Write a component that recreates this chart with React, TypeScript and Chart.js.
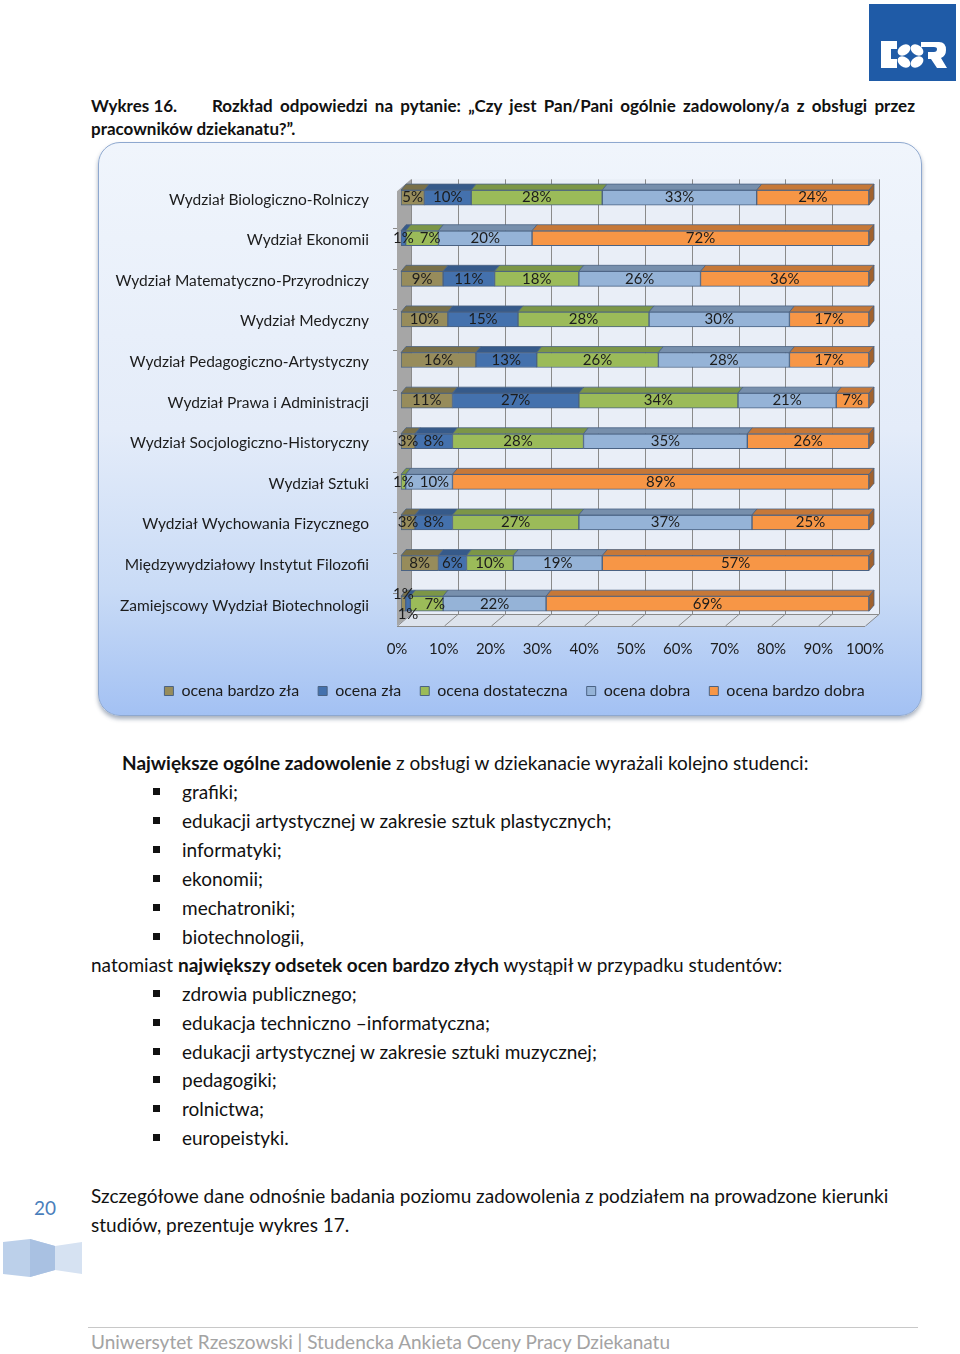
import React, { useEffect, useRef } from 'react';
import { Chart, registerables } from 'chart.js';
Chart.register(...registerables);

const categories = [
  'Wydział Biologiczno-Rolniczy',
  'Wydział Ekonomii',
  'Wydział Matematyczno-Przyrodniczy',
  'Wydział Medyczny',
  'Wydział Pedagogiczno-Artystyczny',
  'Wydział Prawa i Administracji',
  'Wydział Socjologiczno-Historyczny',
  'Wydział Sztuki',
  'Wydział Wychowania Fizycznego',
  'Międzywydziałowy Instytut Filozofii',
  'Zamiejscowy Wydział Biotechnologii',
];
const seriesNames = ['ocena bardzo zła', 'ocena zła', 'ocena dostateczna', 'ocena dobra', 'ocena bardzo dobra'];
const bardzoZla = [5, 0, 9, 10, 16, 11, 3, 0, 3, 8, 1];
const zla = [10, 1, 11, 15, 13, 27, 8, 0, 8, 6, 1];
const dostateczna = [28, 7, 18, 28, 26, 34, 28, 1, 27, 10, 7];
const dobra = [33, 20, 26, 30, 28, 21, 35, 10, 37, 19, 22];
const bardzoDobra = [24, 72, 36, 17, 17, 7, 26, 89, 25, 57, 69];
const xTicks = [0, 10, 20, 30, 40, 50, 60, 70, 80, 90, 100];
const seriesColors = ['#978c5b', '#4471ad', '#9bbb59', '#95b3d7', '#f79646'];

const FONT = 'Lato, "Open Sans", sans-serif';
const DX = 14, DY = -12; // wall depth
const BDX = 5, BDY = -6; // bar depth
const SX = 4, SY = -2; // bar shift

function shade(hex: string, f: number) {
  const n = parseInt(hex.slice(1), 16);
  const r = Math.round(((n >> 16) & 255) * f);
  const g = Math.round(((n >> 8) & 255) * f);
  const b = Math.round((n & 255) * f);
  return `rgb(${r},${g},${b})`;
}

function line(ctx: CanvasRenderingContext2D, x1: number, y1: number, x2: number, y2: number) {
  ctx.beginPath();
  ctx.moveTo(x1, y1);
  ctx.lineTo(x2, y2);
  ctx.stroke();
}

const legendShift = {
  id: 'legendShift',
  afterLayout(chart: any) {
    if (chart.legend) {
      chart.legend.left += 33;
      chart.legend.right += 33;
    }
  },
};

const threeD = {
  id: 'threeD',
  beforeDatasetsDraw(chart: any) {
    const { ctx, chartArea: ca, scales } = chart;
    const xs = scales.x;
    ctx.save();
    // back wall
    ctx.fillStyle = '#e9eef7';
    ctx.fillRect(ca.left + DX, ca.top, ca.right - ca.left, ca.bottom + DY - ca.top);
    // left wall
    ctx.fillStyle = '#a6a6a6';
    ctx.beginPath();
    ctx.moveTo(ca.left, ca.top - DY);
    ctx.lineTo(ca.left + DX, ca.top);
    ctx.lineTo(ca.left + DX, ca.bottom + DY);
    ctx.lineTo(ca.left, ca.bottom);
    ctx.closePath();
    ctx.fill();
    // floor
    ctx.fillStyle = '#dde3ec';
    ctx.beginPath();
    ctx.moveTo(ca.left, ca.bottom);
    ctx.lineTo(ca.right, ca.bottom);
    ctx.lineTo(ca.right + DX, ca.bottom + DY);
    ctx.lineTo(ca.left + DX, ca.bottom + DY);
    ctx.closePath();
    ctx.fill();
    // grid
    ctx.strokeStyle = '#8a8a8a';
    ctx.lineWidth = 1;
    xTicks.forEach((v) => {
      const x = Math.round(xs.getPixelForValue(v)) + 0.5;
      line(ctx, x + DX, ca.top, x + DX, ca.bottom + DY);
      line(ctx, x, ca.bottom, x + DX, ca.bottom + DY);
    });
    line(ctx, ca.left, ca.bottom + 0.5, ca.right, ca.bottom + 0.5);
    line(ctx, ca.left + DX, ca.bottom + DY + 0.5, ca.right + DX, ca.bottom + DY + 0.5);
    // left axis ticks
    const n = chart.data.labels.length;
    const band = (ca.bottom - ca.top) / n;
    for (let i = 1; i < n; i++) {
      const y = Math.round(ca.top + band * i) + 0.5;
      line(ctx, ca.left - 4, y + 8, ca.left, y + 8);
    }
    ctx.restore();
    ctx.save();
    ctx.translate(SX, SY);
  },
  afterDatasetsDraw(chart: any) {
    const { ctx } = chart;
    const n = chart.data.labels.length;
    const rows: any[] = [];
    for (let i = 0; i < n; i++) {
      let last: any = null;
      const segs: any[] = [];
      chart.data.datasets.forEach((ds: any, di: number) => {
        const v = ds.data[i];
        if (!v) return;
        const el = chart.getDatasetMeta(di).data[i];
        const { x, y, base, height } = el.getProps(['x', 'y', 'base', 'height'], true);
        const x0 = Math.min(x, base), x1 = Math.max(x, base);
        const top = y - height / 2;
        ctx.fillStyle = shade(seriesColors[di], 0.8);
        ctx.strokeStyle = '#4a6283';
        ctx.lineWidth = 0.8;
        ctx.beginPath();
        ctx.moveTo(x0, top);
        ctx.lineTo(x0 + BDX, top + BDY);
        ctx.lineTo(x1 + BDX, top + BDY);
        ctx.lineTo(x1, top);
        ctx.closePath();
        ctx.fill();
        ctx.stroke();
        last = { x1, top, height, di };
        segs.push({ x0, x1, y, v });
      });
      if (last) {
        ctx.fillStyle = shade(seriesColors[last.di], 0.65);
        ctx.beginPath();
        ctx.moveTo(last.x1, last.top);
        ctx.lineTo(last.x1 + BDX, last.top + BDY);
        ctx.lineTo(last.x1 + BDX, last.top + BDY + last.height);
        ctx.lineTo(last.x1, last.top + last.height);
        ctx.closePath();
        ctx.fill();
        ctx.stroke();
      }
      rows.push(segs);
    }
    ctx.restore();
    // data labels
    ctx.save();
    ctx.font = `15px ${FONT}`;
    ctx.fillStyle = '#1c1c1c';
    ctx.textAlign = 'center';
    ctx.textBaseline = 'middle';
    rows.forEach((segs) => {
      const placed: any[] = [];
      segs.forEach((s: any) => {
        const text = s.v + '%';
        const w = ctx.measureText(text).width;
        let cx = (s.x0 + s.x1) / 2 + SX;
        let cy = s.y + SY;
        const prev = placed[placed.length - 1];
        if (prev && cx - w / 2 < prev.cx + prev.w / 2 + 1) {
          if (prev.v <= 1 && s.v <= 1) {
            prev.cy -= 10;
            cy += 10;
          } else {
            cx = prev.cx + prev.w / 2 + 6 + w / 2;
          }
        }
        placed.push({ cx, cy, w, v: s.v, text });
      });
      placed.forEach((p) => ctx.fillText(p.text, p.cx, p.cy));
    });
    ctx.restore();
  },
};

function ChartPanel() {
  const ref = useRef<HTMLCanvasElement>(null);
  useEffect(() => {
    if (!ref.current) return;
    Chart.defaults.font.family = FONT;
    const series = [bardzoZla, zla, dostateczna, dobra, bardzoDobra];
    const chart = new Chart(ref.current, {
      type: 'bar',
      data: {
        labels: categories,
        datasets: series.map((d, i) => ({
          label: seriesNames[i],
          data: d,
          backgroundColor: seriesColors[i],
          borderColor: '#4a6283',
          borderWidth: 1,
          borderSkipped: false,
          barThickness: 15,
        })),
      },
      options: {
        indexAxis: 'y',
        responsive: false,
        animation: false,
        layout: { padding: { left: 0, right: 57, top: 35, bottom: 7 } },
        scales: {
          x: {
            stacked: true,
            min: 0,
            max: 100,
            ticks: { stepSize: 10, callback: (v: any) => v + '%', padding: 14, font: { size: 15 }, color: '#1c1c1c' },
            grid: { display: false, drawTicks: false },
            border: { display: false },
            afterFit: (s: any) => { s.height = 38; },
          },
          y: {
            stacked: true,
            ticks: { padding: 28, font: { size: 15.5 }, color: '#1c1c1c' },
            grid: { display: false, drawTicks: false },
            border: { display: false },
            afterFit: (s: any) => { s.width = 299; },
          },
        },
        plugins: {
          legend: {
            position: 'bottom',
            labels: { boxWidth: 9, boxHeight: 9, padding: 19, font: { size: 16 }, color: '#1c1c1c' },
          },
          tooltip: { enabled: false },
        },
      } as any,
      plugins: [threeD, legendShift],
    });
    return () => chart.destroy();
  }, []);
  return (
    <div
      style={{
        position: 'absolute', left: 98, top: 142, width: 824, height: 574,
        borderRadius: 22, border: '1.5px solid #8ea8cf', boxSizing: 'border-box',
        background: 'linear-gradient(180deg, #f0f5fc 0%, #e4ecf9 50%, #c9dbf6 78%, #a3c1f3 100%)',
        boxShadow: '0 3px 4px rgba(60,80,110,0.45)',
      }}
    >
      <canvas ref={ref} width={824} height={574} style={{ position: 'absolute', left: -1.5, top: -1.5, width: 824, height: 574 }} />
    </div>
  );
}

const T = (props: any) => (
  <div style={{ position: 'absolute', whiteSpace: 'nowrap', lineHeight: '22px', fontSize: 19, color: '#111', ...props.style }}>
    {props.children}
  </div>
);

const bullets1 = ['grafiki;', 'edukacji artystycznej w zakresie sztuk plastycznych;', 'informatyki;', 'ekonomii;', 'mechatroniki;', 'biotechnologii,'];
const bullets2 = ['zdrowia publicznego;', 'edukacja techniczno –informatyczna;', 'edukacji artystycznej w zakresie sztuki muzycznej;', 'pedagogiki;', 'rolnictwa;', 'europeistyki.'];
const b1y = [792, 821, 850, 879, 908, 937];
const b2y = [994, 1023, 1052, 1080, 1109, 1138];

export default function App() {
  return (
    <div style={{ position: 'absolute', left: 0, top: 0, width: 960, height: 1354, background: '#fff', fontFamily: FONT, overflow: 'hidden' }}>
      {/* logo */}
      <svg style={{ position: 'absolute', left: 869, top: 4 }} width={87} height={77}>
        <rect x={0} y={0} width={87} height={77} fill="#1f5ba7" />
        <path d="M12 37 h16 v8 h-6 v10 h6 v9 h-16 z" fill="#fff" />
        <ellipse cx={35} cy={46} rx={7} ry={5} fill="#fff" transform="rotate(-35 35 46)" />
        <ellipse cx={48} cy={46} rx={7} ry={5} fill="#fff" transform="rotate(35 48 46)" />
        <ellipse cx={35} cy={58} rx={7} ry={5} fill="#fff" transform="rotate(35 35 58)" />
        <ellipse cx={48} cy={58} rx={7} ry={5} fill="#fff" transform="rotate(-35 48 58)" />
        <path d="M52 38 h18 q7 0 7 8 q0 6 -5 8 l6 10 h-10 l-6 -9 h-3 v-7 h6 q3 0 3 -3 q0 -2 -3 -2 h-13 z" fill="#fff" />
      </svg>

      {/* title */}
      <div style={{ position: 'absolute', left: 91, top: 96, fontSize: 17, fontWeight: 700, lineHeight: '20px', color: '#111', whiteSpace: 'nowrap' }}>Wykres 16.</div>
      <div style={{ position: 'absolute', left: 212, top: 96, width: 703, fontSize: 17, fontWeight: 700, lineHeight: '20px', color: '#111', textAlign: 'justify', textAlignLast: 'justify' as any, whiteSpace: 'nowrap' }}>
        Rozkład odpowiedzi na pytanie: „Czy jest Pan/Pani ogólnie zadowolony/a z obsługi przez
      </div>
      <div style={{ position: 'absolute', left: 91, top: 119, fontSize: 17, fontWeight: 700, lineHeight: '20px', color: '#111', whiteSpace: 'nowrap' }}>pracowników dziekanatu?”.</div>

      <ChartPanel />

      <T style={{ left: 122, top: 752 }}><b>Największe ogólne zadowolenie</b> z obsługi w dziekanacie wyrażali kolejno studenci:</T>
      {bullets1.map((b, i) => (
        <React.Fragment key={'a' + i}>
          <div style={{ position: 'absolute', left: 153, top: b1y[i] - 4, width: 7, height: 7, background: '#111' }} />
          <T style={{ left: 182, top: b1y[i] - 11 }}>{b}</T>
        </React.Fragment>
      ))}
      <T style={{ left: 91, top: 954 }}>natomiast <b>największy odsetek ocen bardzo złych</b> wystąpił w przypadku studentów:</T>
      {bullets2.map((b, i) => (
        <React.Fragment key={'b' + i}>
          <div style={{ position: 'absolute', left: 153, top: b2y[i] - 4, width: 7, height: 7, background: '#111' }} />
          <T style={{ left: 182, top: b2y[i] - 11 }}>{b}</T>
        </React.Fragment>
      ))}
      <T style={{ left: 91, top: 1185 }}>Szczegółowe dane odnośnie badania poziomu zadowolenia z podziałem na prowadzone kierunki</T>
      <T style={{ left: 91, top: 1214 }}>studiów, prezentuje wykres 17.</T>

      {/* page number */}
      <div style={{ position: 'absolute', left: 25, top: 1197, width: 40, textAlign: 'center', fontSize: 19, lineHeight: '22px', color: '#4a7ebb' }}>20</div>
      <svg style={{ position: 'absolute', left: 0, top: 1236 }} width={90} height={46}>
        <polygon points="3,6 30,3 55,10 55,34 30,41 3,38" fill="#bcd0ea" />
        <polygon points="30,3 55,10 55,34 30,41" fill="#a9c1e2" />
        <polygon points="55,10 82,6 82,38 55,34" fill="#d6e2f2" />
      </svg>

      {/* footer */}
      <div style={{ position: 'absolute', left: 88, top: 1327, width: 830, height: 1, background: '#c8c8c8' }} />
      <T style={{ left: 91, top: 1331, color: '#a3a3a3' }}>Uniwersytet Rzeszowski | Studencka Ankieta Oceny Pracy Dziekanatu</T>
    </div>
  );
}
